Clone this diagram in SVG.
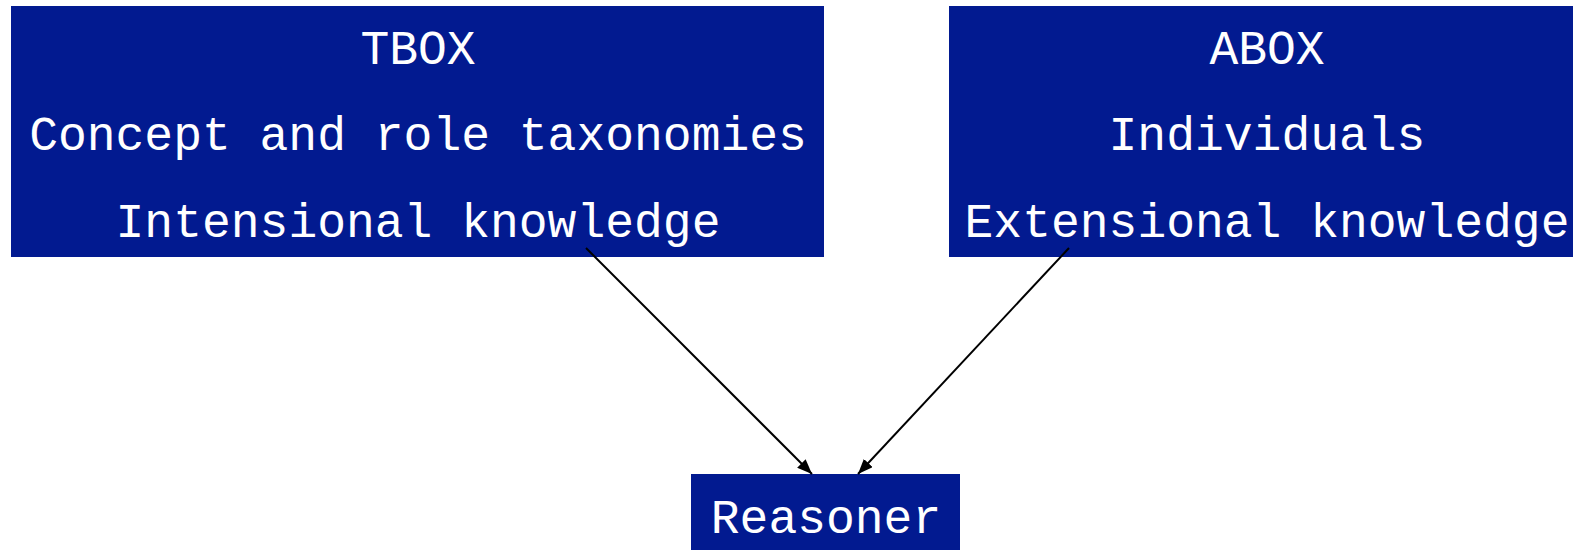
<svg xmlns="http://www.w3.org/2000/svg" width="1573" height="550" viewBox="0 0 1573 550">
<style>
.box{fill:#021a90;}
.t{font-family:"Liberation Mono","Courier New",monospace;font-size:48px;fill:#ffffff;text-anchor:middle;}
.e{stroke:#000;stroke-width:2;fill:none;}
</style>
<defs>
<marker id="ah" markerUnits="userSpaceOnUse" markerWidth="16" markerHeight="12" refX="15" refY="6" orient="auto">
<path d="M0,0 L15,6 L0,12 z" fill="#000"/>
</marker>
</defs>
<rect width="1573" height="550" fill="#fff"/>
<g id="tbox">
<rect class="box" x="11" y="6" width="813" height="251"/>
<text class="t" x="418" y="64">TBOX</text>
<text class="t" x="418" y="150">Concept and role taxonomies</text>
<text class="t" x="418" y="237">Intensional knowledge</text>
</g>
<g id="abox">
<rect class="box" x="949" y="6" width="640" height="251"/>
<text class="t" x="1267" y="64">ABOX</text>
<text class="t" x="1267" y="150">Individuals</text>
<text class="t" x="1267" y="237">Extensional knowledge</text>
</g>
<g id="reasoner">
<rect class="box" x="691" y="474" width="269" height="76"/>
<text class="t" x="826" y="533">Reasoner</text>
</g>
<g id="connectors">
<line class="e" x1="586" y1="248" x2="812" y2="474" marker-end="url(#ah)"/>
<line class="e" x1="1069" y1="248" x2="858" y2="474" marker-end="url(#ah)"/>
</g>
</svg>
